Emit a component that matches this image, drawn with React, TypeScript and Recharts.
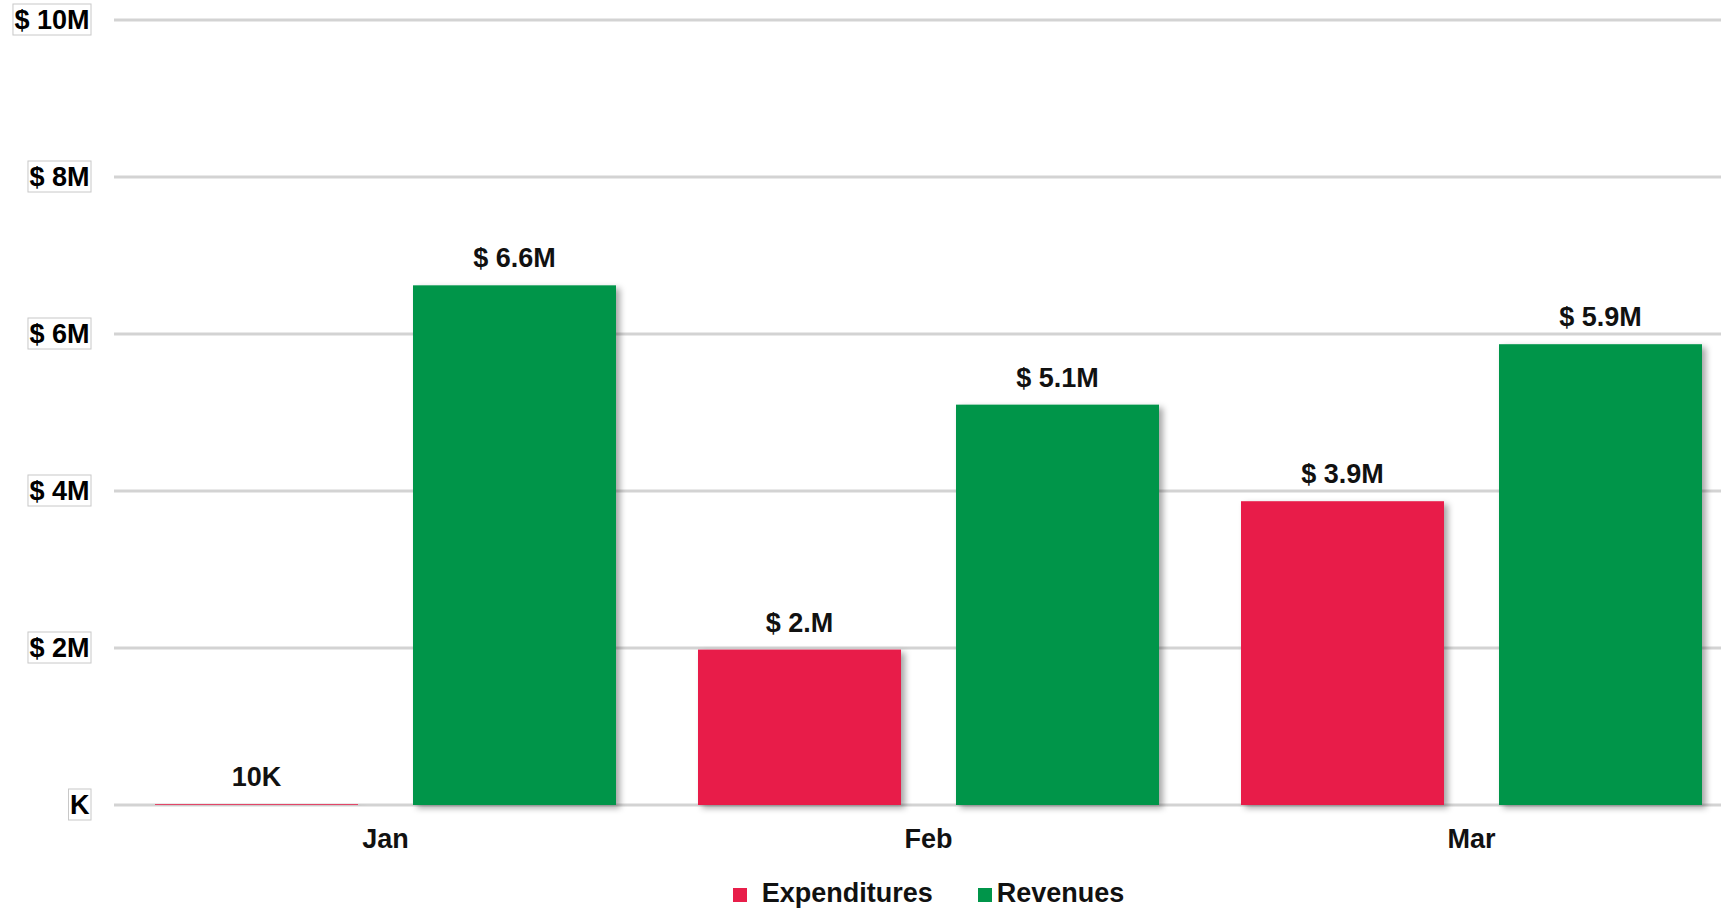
import React from "react";
import { BarChart, Bar, XAxis, YAxis, CartesianGrid, LabelList } from "recharts";

const months = ["Jan", "Feb", "Mar"];
const expenditures = [10000, 1980000, 3870000];
const revenues = [6620000, 5100000, 5870000];
const expLabels = ["10K", "$ 2.M", "$ 3.9M"];
const revLabels = ["$ 6.6M", "$ 5.1M", "$ 5.9M"];
const yTicks = [0, 2000000, 4000000, 6000000, 8000000, 10000000];
const yTickLabels = ["K", "$ 2M", "$ 4M", "$ 6M", "$ 8M", "$ 10M"];
const seriesNames = ["Expenditures", "Revenues"];
const seriesColors = ["#E81E4A", "#00954A"];

const data = months.map((m, i) => ({
  month: m,
  exp: expenditures[i],
  rev: revenues[i],
  expLabel: expLabels[i],
  revLabel: revLabels[i],
}));

const FONT = "'Liberation Sans', Arial, Helvetica, sans-serif";
const FS = 27;

const charW: Record<string, number> = {
  "$": 0.556, " ": 0.278, ".": 0.278, M: 0.833, K: 0.722,
};
const textWidth = (s: string) =>
  s.split("").reduce((a, c) => a + (charW[c] ?? 0.556), 0) * FS;

const YTick = (props: any) => {
  const { x, y, payload } = props;
  const idx = yTicks.indexOf(payload.value);
  const label = idx >= 0 ? yTickLabels[idx] : "";
  const w = textWidth(label) + 3;
  return (
    <g>
      <rect x={x - w} y={y - 16} width={w} height={31} fill="#fff" stroke="#c8c8c8" strokeWidth={1} />
      <text x={x - 1.5} y={y + 9} textAnchor="end" fontFamily={FONT} fontWeight="bold" fontSize={FS} fill="#000">
        {label}
      </text>
    </g>
  );
};

const XTick = (props: any) => {
  const { x, y, payload } = props;
  return (
    <text x={x} y={y + 43} textAnchor="middle" fontFamily={FONT} fontWeight="bold" fontSize={FS} fill="#111">
      {payload.value}
    </text>
  );
};

const BarLabel = (props: any) => {
  const { x, y, width, value } = props;
  return (
    <text x={x + width / 2} y={y - 18} textAnchor="middle" fontFamily={FONT} fontWeight="bold" fontSize={FS} fill="#111">
      {value}
    </text>
  );
};

const ShadowBar = (props: any) => {
  const { x, y, width, height, fill } = props;
  if (width == null || height == null) return null;
  return <rect x={x} y={y} width={width} height={Math.max(height, 0)} fill={fill} filter="url(#barShadow)" />;
};

export default function App() {
  return (
    <div style={{ position: "fixed", top: 0, left: 0, width: 1721, height: 909, overflow: "hidden", background: "#fff" }}>
      <BarChart
        width={1768}
        height={909}
        data={data}
        margin={{ top: 20, right: 25, left: 8, bottom: 74 }}
        barSize={203}
        barGap={55}
      >
        <defs>
          <filter id="barShadow" x="-10%" y="-10%" width="130%" height="130%">
            <feDropShadow dx={4} dy={3} stdDeviation={3} floodColor="#000" floodOpacity={0.35} />
          </filter>
        </defs>
        <CartesianGrid vertical={false} stroke="#d3d3d3" strokeWidth={3} />
        <XAxis
          dataKey="month"
          axisLine={false}
          tickLine={false}
          tickSize={0}
          tickMargin={0}
          height={30}
          tick={<XTick />}
        />
        <YAxis
          domain={[0, 10000000]}
          ticks={yTicks}
          axisLine={false}
          tickLine={false}
          tickSize={0}
          tickMargin={23}
          width={106}
          tick={<YTick />}
          interval={0}
        />
        <Bar dataKey="exp" name={seriesNames[0]} fill={seriesColors[0]} isAnimationActive={false} shape={<ShadowBar />}>
          <LabelList dataKey="expLabel" content={<BarLabel />} />
        </Bar>
        <Bar dataKey="rev" name={seriesNames[1]} fill={seriesColors[1]} isAnimationActive={false} shape={<ShadowBar />}>
          <LabelList dataKey="revLabel" content={<BarLabel />} />
        </Bar>
      </BarChart>
      <div
        style={{
          position: "absolute",
          left: 114,
          width: 1629,
          top: 877,
          height: 32,
          display: "flex",
          justifyContent: "center",
          alignItems: "center",
          fontFamily: FONT,
          fontWeight: "bold",
          fontSize: FS,
          color: "#111",
        }}
      >
        {seriesNames.map((n, i) => (
          <div key={n} style={{ display: "flex", alignItems: "center", marginRight: i === 0 ? 45 : 0 }}>
            <span
              style={{
                display: "inline-block",
                width: 14,
                height: 14,
                background: seriesColors[i],
                marginRight: i === 0 ? 15 : 5,
                marginTop: 4,
              }}
            />
            <span>{n}</span>
          </div>
        ))}
      </div>
    </div>
  );
}
